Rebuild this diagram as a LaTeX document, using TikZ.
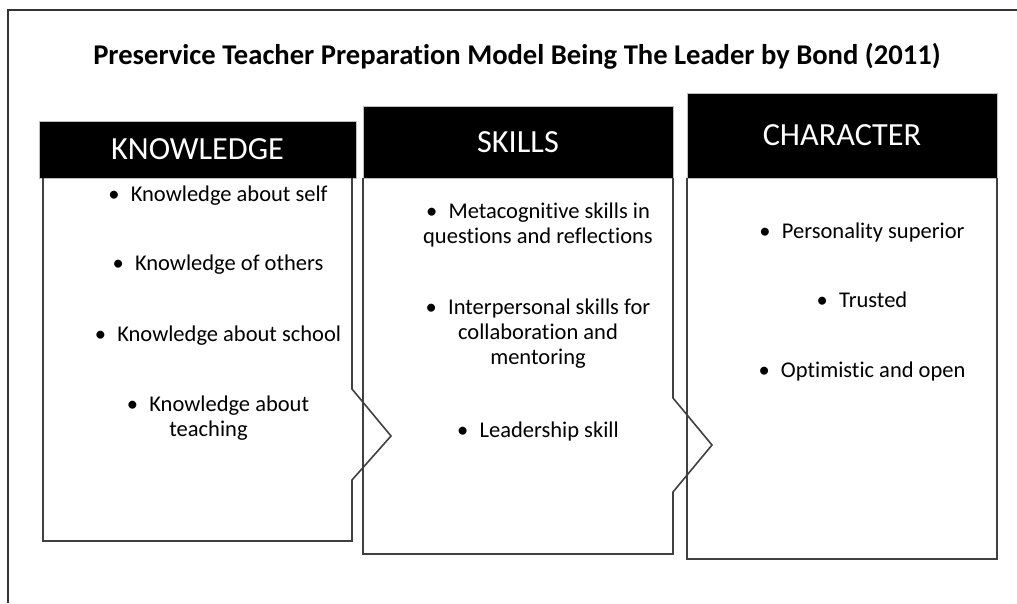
\documentclass[tikz,border=0pt]{standalone}
\usepackage{fontspec}
\setmainfont{Carlito}[Ligatures=CommonOff]

\tikzset{
	head/.style={fill=black, draw=black!25, line width=0.8pt, text=white,
		font=\fontsize{32.3}{34}\selectfont, inner sep=0pt},
	item/.style={align=center, inner sep=0pt,
		font=\fontsize{22.5}{25}\selectfont},
	outline/.style={draw=black!75, line width=1.6pt, line join=miter},
}

\begin{document}
\begin{tikzpicture}[x=1pt, y=-1pt]

	\useasboundingbox (0,0) rectangle (1017,603);

	% Frame.
	\coordinate (frame_right) at (1017,10);
	\coordinate (frame_corner) at (8,10);
	\coordinate (frame_bottom) at (8,603);
	\draw[black!80, line width=1.6pt] (frame_right) -- (frame_corner) -- (frame_bottom);

	% Title.
	\node[font=\fontsize{28.6}{30}\selectfont\bfseries] (title) at (517,56)
		{Preservice Teacher Preparation Model Being The Leader by Bond (2011)};

	% Header definitions.
	\node[head, minimum width=317pt, minimum height=57pt] (know_head) at (197.5,149.5) {KNOWLEDGE};
	\node[head, minimum width=310pt, minimum height=72pt] (skill_head) at (518,142) {SKILLS};
	\node[head, minimum width=310pt, minimum height=85pt] (char_head) at (842,135.5) {CHARACTER};

	% Body outlines.
	\coordinate (know_top) at (43,178);
	\coordinate (know_tip) at (391,436);
	\draw[outline] (know_top) -- (43,541) -- (352,541) -- (352,480)
		-- (know_tip) -- (352,389) -- (352,178);

	\coordinate (skill_top) at (363,178);
	\coordinate (skill_tip) at (712,445);
	\draw[outline] (skill_top) -- (363,554) -- (673,554) -- (673,492)
		-- (skill_tip) -- (673,398) -- (673,178);

	\coordinate (char_top) at (687,178);
	\draw[outline] (char_top) -- (687,559) -- (997,559) -- (997,178);

	% Knowledge items.
	\node[item] (know_self)   at (218,196) {•\enspace Knowledge about self};
	\node[item] (know_others) at (218,265) {•\enspace Knowledge of others};
	\node[item] (know_school) at (218,336) {•\enspace Knowledge about school};
	\node[item] (know_teach)  at (218,418) {•\enspace Knowledge about\\teaching\hspace*{19pt}};

	% Skills items.
	\node[item] (skill_meta)  at (538,225) {•\enspace Metacognitive skills in\\questions and reflections};
	\node[item] (skill_inter) at (538,334) {•\enspace Interpersonal skills for\\collaboration and\\mentoring};
	\node[item] (skill_lead)  at (538,431) {•\enspace Leadership skill};

	% Character items.
	\node[item] (char_pers)  at (862,232) {•\enspace Personality superior};
	\node[item] (char_trust) at (862,300) {•\enspace Trusted};
	\node[item] (char_opt)   at (862,371) {•\enspace Optimistic and open};

\end{tikzpicture}
\end{document}
